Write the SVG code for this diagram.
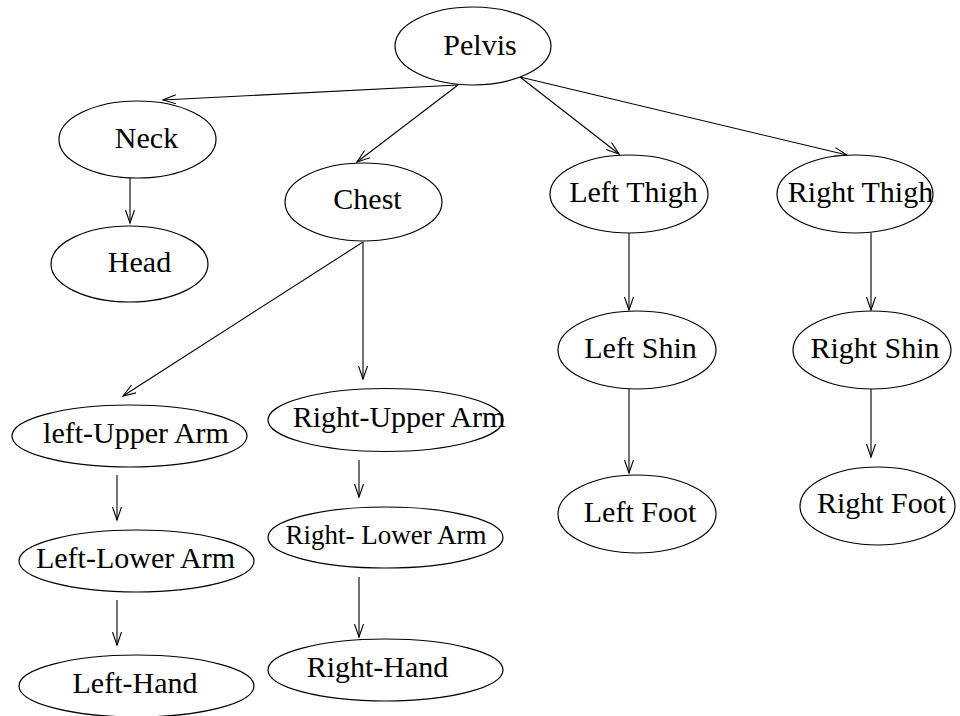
<svg xmlns="http://www.w3.org/2000/svg" width="960" height="716" viewBox="0 0 960 716">
<defs>
<style>
.n ellipse{fill:#fff;stroke:#000;stroke-width:1.2}
.n text{font-family:"Liberation Serif","Times New Roman",serif;font-size:30px;fill:#000;text-anchor:middle}
.e line{stroke:#000;stroke-width:1.1;marker-end:url(#ah)}
</style>
<marker id="ah" markerUnits="userSpaceOnUse" markerWidth="16" markerHeight="12" refX="13" refY="5" orient="auto">
<path d="M0,0.5 L13,5 L0,9.5" fill="none" stroke="#000" stroke-width="1.1"/>
</marker>
</defs>
<rect width="960" height="716" fill="#fff"/>
<g id="connectors" class="e">
<line x1="458" y1="85" x2="163" y2="100"/>
<line x1="458" y1="85" x2="357" y2="162"/>
<line x1="520" y1="77" x2="619" y2="154"/>
<line x1="520" y1="77" x2="847" y2="155"/>
<line x1="130" y1="178" x2="130" y2="223"/>
<line x1="363" y1="242" x2="123" y2="396"/>
<line x1="363" y1="242" x2="363" y2="379"/>
<line x1="629" y1="233" x2="629" y2="310"/>
<line x1="871" y1="233" x2="871" y2="310"/>
<line x1="629" y1="389" x2="629" y2="473"/>
<line x1="871" y1="389" x2="871" y2="457"/>
<line x1="117" y1="475" x2="117" y2="520"/>
<line x1="117" y1="600" x2="117" y2="645"/>
<line x1="359" y1="460" x2="359" y2="497"/>
<line x1="359" y1="577" x2="359" y2="637"/>
</g>
<g id="pelvis" class="n"><ellipse cx="473" cy="46" rx="78" ry="39"/><text x="480" y="55">Pelvis</text></g>
<g id="neck" class="n"><ellipse cx="137.5" cy="139.5" rx="78.5" ry="38.5"/><text x="146.5" y="148">Neck</text></g>
<g id="head" class="n"><ellipse cx="129.5" cy="264" rx="78.5" ry="38"/><text x="139.5" y="272">Head</text></g>
<g id="chest" class="n"><ellipse cx="363.5" cy="202" rx="78.5" ry="39"/><text x="367.5" y="209">Chest</text></g>
<g id="left-thigh" class="n"><ellipse cx="629" cy="194" rx="79" ry="39"/><text x="633.5" y="202">Left Thigh</text></g>
<g id="right-thigh" class="n"><ellipse cx="855" cy="194" rx="78" ry="39"/><text x="860.5" y="202">Right Thigh</text></g>
<g id="left-shin" class="n"><ellipse cx="637" cy="350" rx="79" ry="39"/><text x="640.5" y="358">Left Shin</text></g>
<g id="right-shin" class="n"><ellipse cx="872" cy="350" rx="79" ry="39"/><text x="875" y="358">Right Shin</text></g>
<g id="left-foot" class="n"><ellipse cx="637" cy="514" rx="79" ry="39"/><text x="640" y="522">Left Foot</text></g>
<g id="right-foot" class="n"><ellipse cx="877.5" cy="506" rx="77.5" ry="39"/><text x="881.5" y="513">Right Foot</text></g>
<g id="left-upper-arm" class="n"><ellipse cx="129.5" cy="436" rx="117.5" ry="31"/><text x="136" y="443">left-Upper Arm</text></g>
<g id="left-lower-arm" class="n"><ellipse cx="136.5" cy="561" rx="117.5" ry="31"/><text x="135.5" y="568">Left-Lower Arm</text></g>
<g id="left-hand" class="n"><ellipse cx="136.5" cy="686" rx="117.5" ry="31"/><text x="135" y="693">Left-Hand</text></g>
<g id="right-upper-arm" class="n"><ellipse cx="385.5" cy="420" rx="117.5" ry="31.5"/><text x="399" y="427">Right-Upper Arm</text></g>
<g id="right-lower-arm" class="n"><ellipse cx="385.5" cy="537.5" rx="117.5" ry="30.5"/><text x="386" y="544" style="font-size:27px">Right- Lower Arm</text></g>
<g id="right-hand" class="n"><ellipse cx="385.5" cy="670" rx="117.5" ry="31"/><text x="377.5" y="677">Right-Hand</text></g>
</svg>
